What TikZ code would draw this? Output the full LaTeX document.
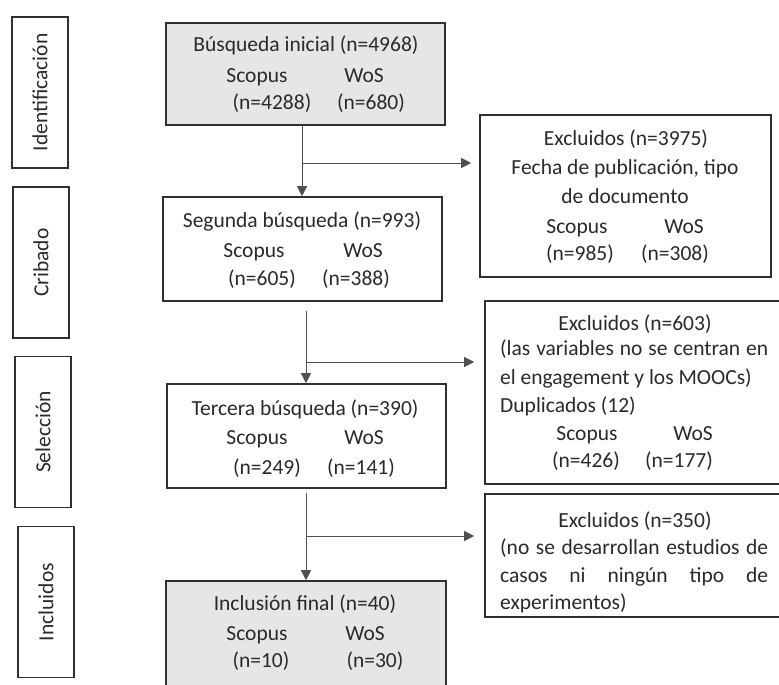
\documentclass[tikz,border=0pt]{standalone}
\usepackage{fontspec}
\setmainfont{Carlito}
\usetikzlibrary{arrows.meta}
\definecolor{boxgray}{HTML}{E6E6E6}
\definecolor{edge}{HTML}{303030}
\definecolor{conn}{HTML}{505050}
\definecolor{ink}{HTML}{2A2A2A}
\begin{document}
\begin{tikzpicture}[x=1pt,y=-1pt,
  mbox/.style={draw=edge, line width=1.6pt, inner sep=0pt},
  gbox/.style={mbox, fill=boxgray},
  lab/.style={draw=edge, line width=1.8pt, rotate=90, minimum width=151pt, minimum height=56pt, inner sep=0pt, font=\fontsize{21.5}{26}\selectfont, text=ink},
  txt/.style={anchor=base, inner sep=0pt, font=\fontsize{21.5}{26}\selectfont, text=ink},
  ltxt/.style={txt, anchor=base west},
  arr/.style={draw=conn, line width=1pt, -{Triangle[length=10pt,width=10pt]}},
  ln/.style={draw=conn, line width=1pt}]
\useasboundingbox (0,0) rectangle (779,685);
\clip (0,0) rectangle (779,685);
\fill[white] (0,0) rectangle (779,685);

% stage labels
\node[lab] (L1) at (40,92.5) {Identificación};
\node[lab] (L2) at (41,262.5) {Cribado};
\node[lab] (L3) at (43,432) {Selección};
\node[lab] (L4) at (46,602) {Incluidos};

% main boxes
\node[gbox, minimum width=279pt, minimum height=102pt] (b1) at (305.5,74) {};
\node[mbox, minimum width=279pt, minimum height=104pt] (b2) at (302.5,249) {};
\node[mbox, minimum width=279pt, minimum height=104pt] (b3) at (306.5,436) {};
\node[gbox, minimum width=280pt, minimum height=106pt] (b4) at (306,634) {};

% exclusion boxes
\node[mbox, minimum width=291pt, minimum height=162pt] (e1) at (625.5,196) {};
\node[mbox, minimum width=300pt, minimum height=183pt] (e2) at (635,392.5) {};
\node[mbox, minimum width=300pt, minimum height=123pt] (e3) at (635,555.5) {};

% texts box 1
\node[txt] (t1a) at (306,52) {Búsqueda inicial (n=4968)};
\node[txt] (t1b) at (257,82) {Scopus};
\node[txt] (t1c) at (364,82) {WoS};
\node[txt] (t1d) at (272,110) {(n=4288)};
\node[txt] (t1e) at (371,110) {(n=680)};
% box 2
\node[txt] (t2a) at (302,227) {Segunda búsqueda (n=993)};
\node[txt] (t2b) at (254,257) {Scopus};
\node[txt] (t2c) at (363,257) {WoS};
\node[txt] (t2d) at (262,285) {(n=605)};
\node[txt] (t2e) at (356,285) {(n=388)};
% box 3
\node[txt] (t3a) at (305,415) {Tercera búsqueda (n=390)};
\node[txt] (t3b) at (257,444) {Scopus};
\node[txt] (t3c) at (364,444) {WoS};
\node[txt] (t3d) at (267,474) {(n=249)};
\node[txt] (t3e) at (361,474) {(n=141)};
% box 4
\node[txt] (t4a) at (305,610) {Inclusión final (n=40)};
\node[txt] (t4b) at (257,640) {Scopus};
\node[txt] (t4c) at (365,640) {WoS};
\node[txt] (t4d) at (261,667) {(n=10)};
\node[txt] (t4e) at (375,667) {(n=30)};
% exclusion 1
\node[txt] (t5a) at (626,145) {Excluidos (n=3975)};
\node[txt] (t5b) at (625,174) {Fecha de publicación, tipo};
\node[txt] (t5c) at (625,203) {de documento};
\node[txt] (t5d) at (577,233) {Scopus};
\node[txt] (t5e) at (684,233) {WoS};
\node[txt] (t5f) at (580,260) {(n=985)};
\node[txt] (t5g) at (675,260) {(n=308)};
% exclusion 2
\node[txt] (t6a) at (635,330) {Excluidos (n=603)};
\node[ltxt] (t6b) at (500,355) {\makebox[268pt][s]{(las variables no se centran en}};
\node[ltxt] (t6c) at (500,384) {el engagement y los MOOCs)};
\node[ltxt] (t6d) at (500,412) {Duplicados (12)};
\node[txt] (t6e) at (587,440) {Scopus};
\node[txt] (t6f) at (693,440) {WoS};
\node[txt] (t6g) at (586,467) {(n=426)};
\node[txt] (t6h) at (679,467) {(n=177)};
% exclusion 3
\node[txt] (t7a) at (635,527) {Excluidos (n=350)};
\node[ltxt] (t7b) at (500,554) {\makebox[268pt][s]{(no se desarrollan estudios de}};
\node[ltxt] (t7c) at (500,582) {\makebox[268pt][s]{casos ni ningún tipo de}};
\node[ltxt] (t7d) at (500,609) {experimentos)};

% connectors
\coordinate (s1) at (302,125);
\coordinate (j1) at (302,163);
\coordinate (s2) at (306,311);
\coordinate (j2) at (306,362);
\coordinate (s3) at (306,493);
\coordinate (j3) at (306,536);
\draw[arr] (s1) -- (s1 |- b2.north);
\draw[arr, shorten >=8pt] (j1) -- (j1 -| e1.west);
\draw[arr] (s2) -- (s2 |- b3.north);
\draw[arr, shorten >=10pt] (j2) -- (j2 -| e2.west);
\draw[arr] (s3) -- (s3 |- b4.north);
\draw[arr, shorten >=10pt] (j3) -- (j3 -| e3.west);
\end{tikzpicture}
\end{document}
